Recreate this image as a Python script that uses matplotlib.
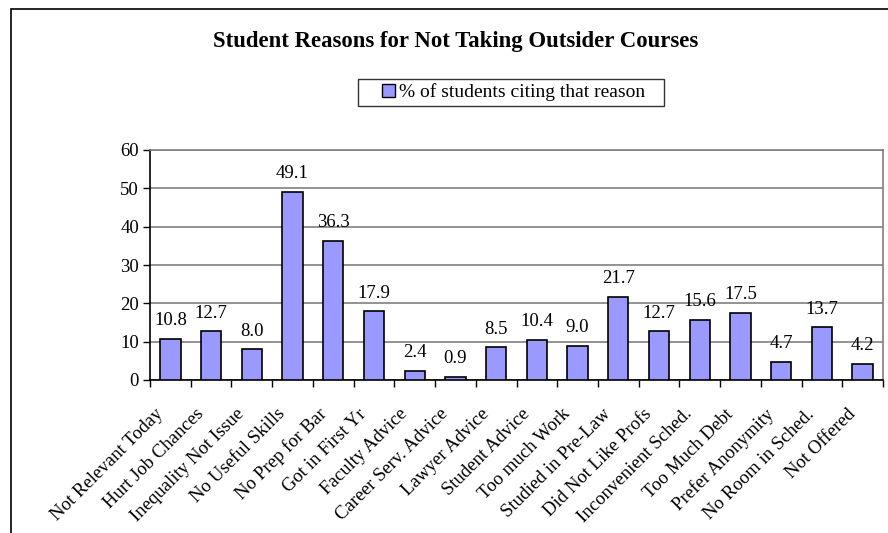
import numpy as np
import matplotlib.pyplot as plt
import matplotlib.transforms as mtransforms
from matplotlib.patches import Rectangle
from matplotlib.legend_handler import HandlerPatch

reasons = ['Not Relevant Today', 'Hurt Job Chances', 'Inequality Not Issue',
           'No Useful Skills', 'No Prep for Bar', 'Got in First Yr',
           'Faculty Advice', 'Career Serv. Advice', 'Lawyer Advice',
           'Student Advice', 'Too much Work', 'Studied in Pre-Law',
           'Did Not Like Profs', 'Inconvenient Sched.', 'Too Much Debt',
           'Prefer Anonymity', 'No Room in Sched.', 'Not Offered']
pct = [10.8, 12.7, 8.0, 49.1, 36.3, 17.9, 2.4, 0.9, 8.5,
       10.4, 9.0, 21.7, 12.7, 15.6, 17.5, 4.7, 13.7, 4.2]
series_name = '% of students citing that reason'
y_ticks = [0, 10, 20, 30, 40, 50, 60]

plt.rcParams['font.family'] = ['Liberation Serif', 'DejaVu Serif']

W, H = 888, 533
fig = plt.figure(figsize=(W / 100, H / 100), dpi=100)

# Excel-style chart border (runs off the right and bottom edge)
fig.patches.append(Rectangle((11 / W, -0.2), 1.5, 1.2 - 9 / H,
                             transform=fig.transFigure, fill=False,
                             edgecolor='black', lw=1.2, zorder=0))

ax = fig.add_axes([150 / W, 1 - 380 / H, (883 - 150) / W, (380 - 150) / H])

x = np.arange(len(reasons))
bars = ax.bar(x, pct, width=0.5, color='#9999FF', edgecolor='black',
              linewidth=1.2, label=series_name, zorder=3)

for xi, v in zip(x, pct):
    ax.annotate(f'{v:.1f}', (xi, v), xytext=(0, 7), textcoords='offset points',
                ha='center', va='bottom', fontsize=13.5)

ax.set_xlim(-0.5, len(reasons) - 0.5)
ax.set_ylim(0, 60)
ax.set_yticks(y_ticks)
ax.yaxis.grid(True, color='#808080', lw=1.2, zorder=0)
ax.tick_params(axis='y', labelsize=13.5, length=5, width=1, direction='out', pad=3)

ax.set_xticks(x)
ax.set_xticklabels(reasons, rotation=45, ha='right', rotation_mode='anchor', fontsize=13.5)
ax.set_xticks(np.arange(-0.5, len(reasons)), minor=True)
ax.tick_params(axis='x', which='major', length=0, pad=14)
ax.tick_params(axis='x', which='minor', length=5, width=1, direction='out')
shift = mtransforms.ScaledTranslation(-0.16, -0.06, fig.dpi_scale_trans)
for lab in ax.get_xticklabels():
    lab.set_transform(lab.get_transform() + shift)

for side in ['top', 'right']:
    ax.spines[side].set_color('#808080')
    ax.spines[side].set_linewidth(1.2)
for side in ['left', 'bottom']:
    ax.spines[side].set_color('black')
    ax.spines[side].set_linewidth(1.2)

fig.text(456 / W, 1 - 41 / H, 'Student Reasons for Not Taking Outsider Courses',
         ha='center', va='center', fontsize=16.4, fontweight='bold')


def square_handle(legend, orig_handle, xdescent, ydescent, width, height, fontsize):
    s = 9.0
    return Rectangle((-xdescent + width - s, -ydescent + (height - s) / 2), s, s)


leg = fig.legend(handles=[bars[0]], labels=[series_name + '   '], loc='center',
                 bbox_to_anchor=(511 / W, 1 - 92.5 / H), fontsize=14,
                 frameon=True, fancybox=False, edgecolor='black',
                 handlelength=1.65, handleheight=0.7, handletextpad=0.2,
                 borderpad=0.25,
                 handler_map={Rectangle: HandlerPatch(patch_func=square_handle)})
leg.get_frame().set_linewidth(1.0)
leg.legend_handles[0].set_linewidth(1.0)

fig.savefig('out.png', dpi=100)
